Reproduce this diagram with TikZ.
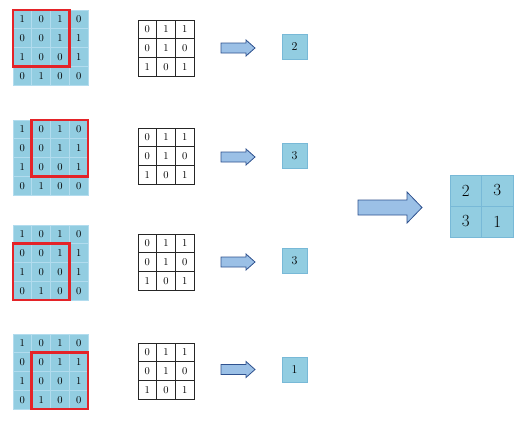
\documentclass[tikz,border=0pt]{standalone}
\usetikzlibrary{calc}
\definecolor{cellblue}{RGB}{146,205,225}
\definecolor{cellline}{RGB}{178,220,238}
\definecolor{boxline}{RGB}{120,185,215}
\definecolor{arrowfill}{RGB}{155,192,230}
\definecolor{arrowline}{RGB}{47,82,143}
\definecolor{redline}{RGB}{228,35,40}
\tikzset{
  incell/.style={draw=cellline, fill=cellblue, minimum width=18.75pt, minimum height=18.75pt,
    inner sep=0pt, line width=0.6pt, font=\fontsize{10.5}{10.5}\selectfont},
  kcell/.style={draw=black!85, fill=white, minimum width=18.67pt, minimum height=18.67pt,
    inner sep=0pt, line width=0.7pt, font=\fontsize{10.5}{10.5}\selectfont},
  outbox/.style={draw=boxline, fill=cellblue, minimum width=25pt, minimum height=25pt,
    inner sep=0pt, line width=0.6pt, font=\fontsize{12}{12}\selectfont},
  fincell/.style={draw=boxline, fill=cellblue, minimum width=31.5pt, minimum height=31pt,
    inner sep=0pt, line width=0.6pt, font=\fontsize{17}{17}\selectfont},
  redbox/.style={draw=redline, line width=2.2pt},
  blockarrow/.style={draw=arrowline, fill=arrowfill, line width=0.8pt, line join=miter}
}
\begin{document}
\begin{tikzpicture}[x=1pt,y=-1pt]
\useasboundingbox (0,0) rectangle (527,421);
% input grids and kernels
\foreach \g/\top/\ktop in {1/10/20,2/120/128,3/225/234,4/334/343}{
  \foreach \row [count=\r] in {{1,0,1,0},{0,0,1,1},{1,0,0,1},{0,1,0,0}}{
    \foreach \v [count=\c] in \row{
      \node[incell] (g\g-\r-\c) at ({13+(\c-0.5)*18.75},{\top+(\r-0.5)*18.75}) {\v};
    }
  }
  \foreach \row [count=\r] in {{0,1,1},{0,1,0},{1,0,1}}{
    \foreach \v [count=\c] in \row{
      \node[kcell] (k\g-\r-\c) at ({138+(\c-0.5)*18.67},{\ktop+(\r-0.5)*18.67}) {\v};
    }
  }
}
% red windows
\foreach \g/\a/\b/\cc/\d in {1/1/1/3/3,2/1/2/3/4,3/2/1/4/3,4/2/2/4/4}{
  \draw[redbox] (g\g-\a-\b.north west) rectangle (g\g-\cc-\d.south east);
}
% small arrows
\foreach \y in {48,157,262,369.5}{
  \draw[blockarrow] (221,\y-5) -- (246,\y-5) -- (246,\y-8) -- (255,\y) -- (246,\y+8)
    -- (246,\y+5) -- (221,\y+5) -- cycle;
}
% output boxes
\node[outbox] (o1) at (294.5,46.5) {2};
\node[outbox] (o2) at (294.5,155.5) {3};
\node[outbox] (o3) at (294.5,260.5) {3};
\node[outbox] (o4) at (294.5,369.5) {1};
% big arrow
\draw[blockarrow] (358,200) -- (407,200) -- (407,192) -- (422,207.5) -- (407,223)
  -- (407,215) -- (358,215) -- cycle;
% final grid
\node[fincell] (f11) at (465.75,190.5) {2};
\node[fincell] (f12) at (497.25,190.5) {3};
\node[fincell] (f21) at (465.75,221.5) {3};
\node[fincell] (f22) at (497.25,221.5) {1};
\end{tikzpicture}
\end{document}
